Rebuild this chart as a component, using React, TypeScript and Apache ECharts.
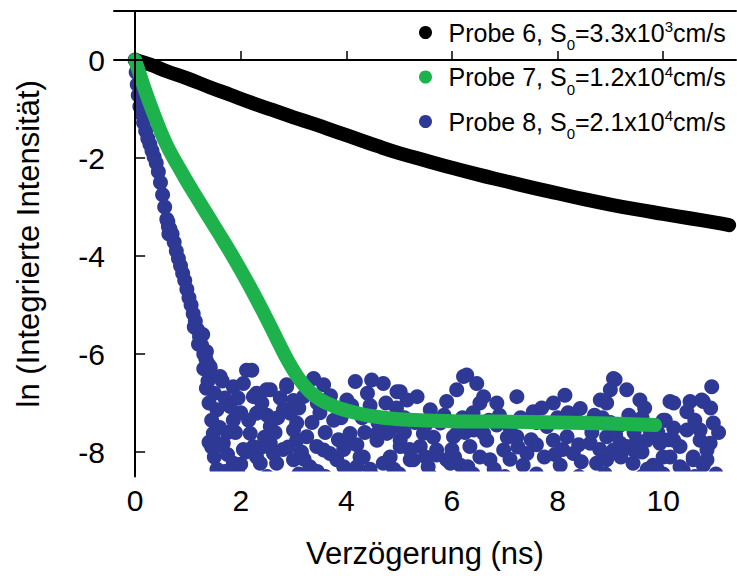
import React, { useEffect, useRef } from "react";
import * as echarts from "echarts";

const FONT = "'Liberation Sans', Arial, Helvetica, sans-serif";

// Probe 6 (black) – ln(intensity) vs delay (ns)
const probe6: [number, number][] = [
  [0, 0], [0.3, -0.1], [0.6, -0.23], [1.0, -0.38], [1.4, -0.55], [1.8, -0.71],
  [2.2, -0.87], [2.6, -1.02], [3.0, -1.17], [3.4, -1.31], [3.8, -1.46],
  [4.2, -1.61], [4.6, -1.76], [5.0, -1.9], [5.5, -2.05], [6.0, -2.2],
  [6.5, -2.34], [7.0, -2.47], [7.5, -2.6], [8.0, -2.72], [8.5, -2.84],
  [9.0, -2.95], [9.5, -3.05], [10.0, -3.14], [10.5, -3.23], [11.0, -3.32], [11.25, -3.37],
];

// Probe 7 (green)
const probe7: [number, number][] = [
  [0, 0], [0.1, -0.33], [0.2, -0.65], [0.3, -0.95], [0.4, -1.23], [0.5, -1.5],
  [0.6, -1.74], [0.7, -1.95], [0.8, -2.14], [0.95, -2.42], [1.1, -2.69], [1.3, -3.04],
  [1.5, -3.39], [1.7, -3.74], [1.9, -4.1], [2.1, -4.48], [2.3, -4.88], [2.5, -5.3],
  [2.7, -5.73], [2.9, -6.15], [3.1, -6.5], [3.3, -6.76], [3.5, -6.93], [3.75, -7.06],
  [4.0, -7.15], [4.5, -7.27], [5.0, -7.33], [6.0, -7.37], [7.0, -7.38], [8.0, -7.4],
  [9.0, -7.42], [9.85, -7.45],
];

// Probe 8 (blue) – fast decay followed by the noise floor
const probe8Decay: [number, number][] = [
  [0, 0], [0.02, -0.25], [0.04, -0.5], [0.06, -0.72], [0.09, -0.95], [0.12, -1.1],
  [0.16, -1.28], [0.2, -1.45], [0.24, -1.6], [0.28, -1.72], [0.32, -1.85], [0.36, -1.98],
  [0.4, -2.1], [0.44, -2.28], [0.48, -2.5], [0.52, -2.75], [0.56, -3.0], [0.6, -3.25],
  [0.62, -3.3], [0.63, -3.4], [0.64, -3.55], [0.66, -3.45], [0.7, -3.55], [0.74, -3.72],
  [0.78, -3.9], [0.82, -4.05], [0.86, -4.2], [0.9, -4.35], [0.94, -4.5], [0.98, -4.68],
  [1.02, -4.85], [1.06, -5.0], [1.1, -5.18], [1.12, -5.45], [1.14, -5.33], [1.18, -5.5],
  [1.2, -5.8], [1.22, -5.65], [1.26, -5.82], [1.28, -5.6], [1.3, -6.0], [1.3, -6.3],
  [1.34, -6.1], [1.35, -5.95], [1.38, -6.2], [1.38, -6.55], [1.42, -6.3],
];

const probe8Noise: [number, number][] = [
  [4.70, -6.60], [5.02, -6.77], [5.34, -6.87], [5.59, -7.14], [5.90, -6.97], [6.28, -6.43],
  [6.47, -6.60], [6.09, -6.73], [6.53, -7.00], [6.85, -7.00], [7.23, -6.87], [7.54, -7.18],
  [7.92, -7.00], [8.14, -6.84], [8.43, -7.11], [8.81, -6.94], [9.00, -6.73], [9.09, -6.52],
  [9.31, -6.73], [9.56, -6.94], [10.13, -6.97], [10.51, -6.97], [10.73, -6.94], [10.92, -6.67],
  [10.95, -7.41], [10.00, -7.35], [10.20, -7.51], [10.45, -7.18], [10.70, -7.76], [10.83, -7.96],
  [10.57, -8.10], [10.13, -8.10], [9.94, -7.82], [10.32, -7.89], [9.81, -8.27], [10.32, -8.30],
  [10.76, -8.27], [4.77, -7.62], [5.02, -7.76], [5.40, -7.89], [5.71, -8.06], [5.27, -8.16],
  [4.83, -8.10], [6.09, -7.62], [6.41, -7.55], [6.66, -7.76], [6.53, -8.10], [6.98, -7.96],
  [7.23, -7.69], [7.42, -8.03], [7.35, -8.27], [7.92, -7.76], [8.18, -7.69], [8.30, -8.03],
  [8.05, -8.27], [8.62, -7.82], [8.93, -7.69], [9.06, -7.96], [8.74, -8.23], [9.31, -7.89],
  [9.50, -7.76], [9.43, -8.23], [5.90, -8.16], [6.16, -8.27], [4.89, -7.48], [5.78, -7.41],
  [6.85, -7.45], [7.80, -7.48], [8.55, -7.41], [9.19, -7.45],
  [2.21, -6.33], [2.30, -6.80], [2.56, -6.73], [2.87, -6.63], [3.19, -6.87], [3.38, -6.50],
  [3.57, -6.63], [4.01, -6.94], [4.17, -6.56], [4.48, -6.53], [4.96, -6.77], [5.15, -6.94],
  [6.22, -6.46], [6.60, -6.87], [2.24, -6.87], [2.30, -7.21], [2.56, -7.48], [2.81, -7.14],
  [3.06, -7.41], [3.25, -7.69], [2.24, -7.89], [2.62, -8.03], [3.00, -8.16], [3.44, -7.89],
  [3.76, -7.35], [3.69, -8.03], [4.07, -7.62], [4.26, -8.10], [4.58, -7.76], [4.83, -7.55],
  [5.02, -7.89], [4.70, -8.23], [5.46, -7.62], [5.71, -7.96], [6.03, -7.69], [6.34, -7.89],
  [6.60, -7.62], [6.72, -8.16], [2.37, -8.23], [3.31, -8.30], [5.21, -8.16], [5.97, -8.23],
  [1.48, -7.62], [1.67, -7.82], [1.86, -8.23], [1.86, -7.35], [2.18, -7.62], [2.30, -8.10],
  [2.56, -7.82], [2.68, -8.23], [2.94, -7.21], [3.06, -7.76], [3.57, -7.96], [3.82, -8.16],
  [4.07, -7.82], [4.32, -8.10], [4.58, -7.62], [1.80, -7.07], [1.55, -7.14],
  [1.42, -6.26], [2.11, -6.33], [1.61, -6.46], [1.86, -6.67], [2.49, -6.73], [2.87, -6.67],
  [1.95, -8.45], [2.5, -8.5], [3.1, -8.45], [3.6, -8.5], [4.0, -8.45], [4.5, -8.5],
  [5.0, -8.45], [5.6, -8.5], [6.4, -8.45], [7.0, -8.5], [7.6, -8.45], [8.4, -8.5],
  [8.9, -8.45], [9.6, -8.5], [10.0, -8.45], [10.6, -8.5], [11.0, -8.45],
  [10.76, -6.97], [10.2, -7.0], [10.04, -7.35], [10.7, -7.55], [10.45, -7.55], [10.2, -7.76],
  [10.89, -7.82], [10.83, -8.16], [10.57, -8.16], [10.0, -8.1], [9.88, -8.33], [10.38, -8.37],
  [9.06, -6.5], [8.93, -7.0], [9.69, -7.76], [9.19, -7.82], [9.44, -7.96], [8.93, -8.16],
  [2.0, -7.2], [2.4, -7.0], [2.7, -7.3], [3.0, -6.95], [3.5, -7.2], [3.9, -7.3],
  [4.3, -7.3], [4.45, -7.05], [5.1, -7.3], [5.5, -7.45], [6.2, -7.3], [6.9, -7.25],
  [7.1, -7.5], [7.6, -7.4], [8.0, -7.3], [8.3, -7.35], [8.7, -7.25], [9.0, -7.4],
  [9.6, -7.3], [9.75, -7.55],
  [1.5, -8.1], [1.7, -8.4], [2.05, -7.95], [2.45, -7.7], [2.8, -7.95], [3.15, -8.0],
  [3.45, -8.4], [3.95, -8.3], [4.2, -7.85], [4.45, -8.35], [4.9, -8.35], [5.2, -7.95],
  [5.55, -8.3], [6.0, -7.95], [6.3, -8.3], [6.8, -8.35], [7.1, -8.15], [7.25, -7.9],
  [7.6, -7.85], [7.75, -8.1], [8.1, -7.95], [8.45, -8.2], [8.8, -7.95], [9.2, -8.1],
  [9.6, -8.0], [9.7, -8.35],
  [1.35, -6.7], [1.4, -7.0], [1.45, -7.35], [1.5, -6.8], [1.6, -7.5], [1.7, -6.9],
  [1.75, -7.6], [1.4, -7.8], [1.55, -8.35], [1.65, -6.55], [1.95, -6.9], [2.05, -6.6],
  [1.45, -7.9], [1.6, -7.85], [1.75, -8.05], [1.9, -7.6], [2.0, -8.25], [2.15, -7.35],
  [2.1, -8.0], [2.4, -7.9], [2.5, -7.25], [2.65, -7.6], [2.75, -6.9], [2.9, -7.9],
  [3.0, -7.55], [3.1, -7.1], [3.2, -8.15], [3.35, -7.4], [3.45, -7.0], [3.6, -7.6],
  [3.7, -6.85], [3.85, -7.75], [3.95, -7.95], [4.1, -7.05], [4.2, -8.3], [4.35, -7.6],
  [4.4, -6.8], [4.6, -7.4], [4.75, -7.0], [4.95, -7.1], [5.1, -7.6], [5.3, -7.4],
  [5.5, -8.1], [5.65, -7.7], [5.85, -7.25], [6.05, -8.1], [6.25, -7.6], [6.4, -7.2],
  [6.7, -7.35], [7.05, -7.7], [7.3, -7.3], [7.5, -7.75], [7.7, -7.1], [7.95, -8.05],
  [8.2, -7.2], [8.4, -7.85], [8.65, -7.6], [8.85, -7.3], [9.1, -7.65], [9.35, -7.25],
  [9.45, -7.6], [9.65, -7.1], [9.9, -7.6], [10.1, -7.75], [10.6, -7.35], [10.9, -7.1],
  [11.05, -7.6],
];

const seriesNames = ["Probe 6", "Probe 7", "Probe 8"];
const legendLabels: Record<string, string> = {
  "Probe 6": "Probe 6, S{sub|0}=3.3x10{sup|3}cm/s",
  "Probe 7": "Probe 7, S{sub|0}=1.2x10{sup|4}cm/s",
  "Probe 8": "Probe 8, S{sub|0}=2.1x10{sup|4}cm/s",
};
const xTitle = "Verzögerung (ns)";
const yTitle = "ln (Integrierte Intensität)";

const X_MIN = -0.4;
const X_MAX = 11.38;
const Y_MIN = -8.5;
const Y_MAX = 1;
const Y_CLIP = -8.4; // lower edge of the data window

const BLACK = "#000000";
const GREEN = "#1EB24C";
const BLUE = "#2E3996";

export default function App() {
  const ref = useRef<HTMLDivElement>(null);

  useEffect(() => {
    if (!ref.current) return;
    const chart = echarts.init(ref.current, null, { renderer: "svg" });
    const axisLabel = {
      fontSize: 30,
      fontFamily: FONT,
      color: "#000",
      margin: 9,
      showMinLabel: false,
      showMaxLabel: false,
    };
    chart.setOption({
      animation: false,
      backgroundColor: "#fff",
      grid: { left: 114, top: 11, width: 622, height: 465.5 },
      legend: {
        orient: "vertical",
        left: 414,
        top: 14,
        icon: "circle",
        itemWidth: 36,
        itemHeight: 13,
        itemGap: 11.5,
        data: seriesNames,
        formatter: (name: string) => legendLabels[name],
        textStyle: {
          fontSize: 25,
          fontFamily: FONT,
          color: "#000",
          rich: {
            sub: { fontSize: 15, fontFamily: FONT, color: "#000", padding: [24, 0, 0, 0] },
            sup: { fontSize: 15, fontFamily: FONT, color: "#000", padding: [0, 0, 12, 0] },
          },
        },
      },
      xAxis: [
        {
          type: "value",
          min: X_MIN,
          max: X_MAX,
          position: "bottom",
          z: 10,
          axisLine: { show: true, lineStyle: { color: "#000", width: 2 } },
          axisTick: { show: true, inside: true, length: 9, lineStyle: { color: "#000", width: 1.5 } },
          axisLabel,
          splitLine: { show: false },
          name: xTitle,
          nameLocation: "middle",
          nameGap: 61,
          nameTextStyle: { fontSize: 31, fontFamily: FONT, color: "#000" },
        },
        {
          type: "value",
          min: X_MIN,
          max: X_MAX,
          position: "top",
          z: 10,
          axisLine: { show: true, lineStyle: { color: "#000", width: 2 } },
          axisTick: { show: false },
          axisLabel: { show: false },
          splitLine: { show: false },
        },
      ],
      yAxis: {
        type: "value",
        min: Y_MIN,
        max: Y_MAX,
        z: 10,
        axisLine: { show: true, lineStyle: { color: "#000", width: 2 } },
        axisTick: { show: true, inside: true, length: 10, lineStyle: { color: "#000", width: 1.5 } },
        axisLabel,
        splitLine: { show: false },
        name: yTitle,
        nameLocation: "middle",
        nameRotate: 90,
        nameGap: 70,
        nameTextStyle: { fontSize: 31, fontFamily: FONT, color: "#000" },
      },
      series: [
        {
          name: "Probe 8",
          type: "scatter",
          symbol: "circle",
          symbolSize: 15,
          itemStyle: { color: BLUE, opacity: 1 },
          data: [...probe8Decay, ...probe8Noise],
        },
        {
          name: "Probe 6",
          type: "line",
          smooth: 0.4,
          showSymbol: false,
          symbol: "circle",
          itemStyle: { color: BLACK },
          lineStyle: { color: BLACK, width: 14, cap: "round", join: "round" },
          data: probe6,
        },
        {
          name: "Probe 7",
          type: "line",
          smooth: 0.4,
          showSymbol: false,
          symbol: "circle",
          itemStyle: { color: GREEN },
          lineStyle: { color: GREEN, width: 14, cap: "round", join: "round" },
          data: probe7,
        },
      ],
    });

    // White mask that trims the dots at the lower edge of the data window
    const [xl, yc] = chart.convertToPixel({ gridIndex: 0 }, [X_MIN, Y_CLIP]) as number[];
    const [xr, yb] = chart.convertToPixel({ gridIndex: 0 }, [X_MAX, Y_MIN]) as number[];
    chart.setOption({
      graphic: [
        {
          type: "rect",
          z: 5,
          silent: true,
          shape: { x: xl + 1, y: yc, width: xr - xl, height: yb - yc + 10 },
          style: { fill: "#fff" },
        },
      ],
    });

    return () => chart.dispose();
  }, []);

  return (
    <div
      ref={ref}
      style={{ position: "absolute", left: 0, top: 0, width: 737, height: 576, background: "#fff" }}
    />
  );
}
